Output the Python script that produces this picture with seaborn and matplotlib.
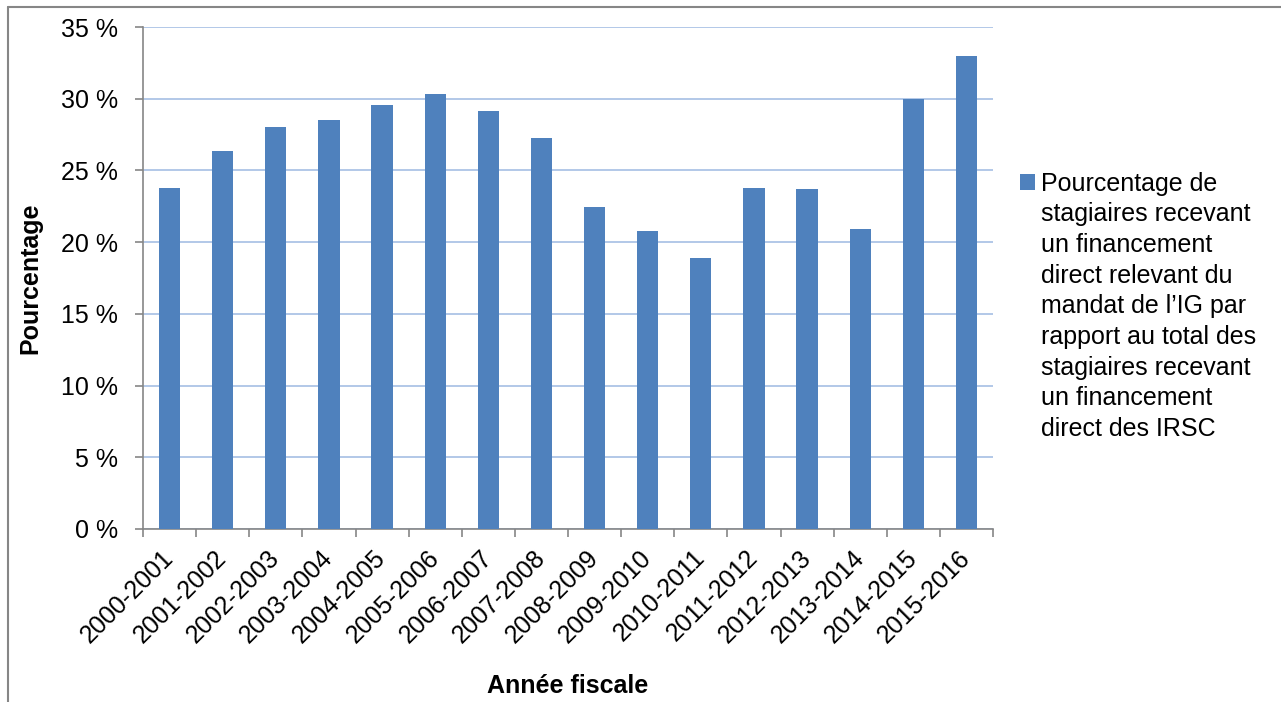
import numpy as np
import matplotlib
matplotlib.use("Agg")
import matplotlib.pyplot as plt
from matplotlib.lines import Line2D
import seaborn as sns

annees = ["2000-2001", "2001-2002", "2002-2003", "2003-2004", "2004-2005",
          "2005-2006", "2006-2007", "2007-2008", "2008-2009", "2009-2010",
          "2010-2011", "2011-2012", "2012-2013", "2013-2014", "2014-2015",
          "2015-2016"]
pourcentages = [23.8, 26.35, 28.05, 28.5, 29.55, 30.35, 29.15, 27.25,
                22.45, 20.75, 18.9, 23.75, 23.7, 20.95, 30.0, 33.0]
graduations = [0, 5, 10, 15, 20, 25, 30, 35]
etiquettes_y = ["0 %", "5 %", "10 %", "15 %", "20 %", "25 %", "30 %", "35 %"]
legende = ["Pourcentage de", "stagiaires recevant", "un financement",
           "direct relevant du", "mandat de l\u2019IG par", "rapport au total des",
           "stagiaires recevant", "un financement", "direct des IRSC"]

sns.set_style("white")
plt.rcParams['font.family'] = ['Liberation Sans', 'DejaVu Sans']
plt.rcParams['text.color'] = 'black'
plt.rcParams['axes.labelcolor'] = 'black'
plt.rcParams['xtick.labelcolor'] = 'black'
plt.rcParams['ytick.labelcolor'] = 'black'

W, H = 1281, 702
fig = plt.figure(figsize=(W / 100, H / 100), dpi=100)
ax = fig.add_axes([143 / W, 1 - 529 / H, 850 / W, 502 / H])

bleu = "#4f81bd"
gris = "#868686"
sns.barplot(x=annees, y=pourcentages, color=bleu, saturation=1, width=0.4,
            linewidth=0, ax=ax, zorder=3)

ax.set_xlim(-0.5, len(annees) - 0.5)
ax.set_ylim(0, 35)
ax.set_yticks(graduations, etiquettes_y)
ax.yaxis.grid(True, color="#adc4e6", lw=1.3)
ax.set_axisbelow(True)

ax.set_xticks(range(len(annees)), annees, rotation=45, ha="right",
              va="center", rotation_mode="anchor")
ax.set_xticks(np.arange(-0.5, len(annees), 1), minor=True)
ax.tick_params(axis="x", which="major", length=0, pad=18, labelsize=18)
ax.tick_params(axis="x", which="minor", length=6, width=1.2, color=gris,
               direction="out", bottom=True)
ax.tick_params(axis="y", length=6, width=1.2, color=gris, direction="out",
               left=True, pad=12, labelsize=18)

for s in ["top", "right"]:
    ax.spines[s].set_visible(False)
for s in ["left", "bottom"]:
    ax.spines[s].set_color(gris)
    ax.spines[s].set_linewidth(1.2)

ax.set_xlabel("Année fiscale", fontsize=18, fontweight="bold", va="top")
ax.xaxis.set_label_coords(0.5, (529 - 674) / 502)
ax.set_ylabel("Pourcentage", fontsize=18, fontweight="bold")
ax.yaxis.set_label_coords((42 - 143) / 850, 0.5)

leg = fig.legend([ax.patches[0]], [legende[0]], loc="upper left",
                 bbox_to_anchor=(1020 / W, 1 - 172 / H), frameon=False,
                 fontsize=18, handlelength=0.58, handleheight=0.58,
                 handletextpad=0.25, borderpad=0, borderaxespad=0)

# suite du libellé de la légende, alignée sous la première ligne
fig.canvas.draw()
bb = leg.get_texts()[0].get_window_extent()
fig.text(bb.x0 / W, (bb.y1 - 30.5) / H, "\n".join(legende[1:]), fontsize=18,
         va="top", ha="left", linespacing=1.35)

# cadre du graphique
fig.add_artist(Line2D([8 / W, 8 / W], [0, 1 - 7 / H], color=gris, lw=1.5))
fig.add_artist(Line2D([8 / W, 1], [1 - 7 / H, 1 - 7 / H], color=gris, lw=1.5))

fig.savefig("out.png", dpi=100)
